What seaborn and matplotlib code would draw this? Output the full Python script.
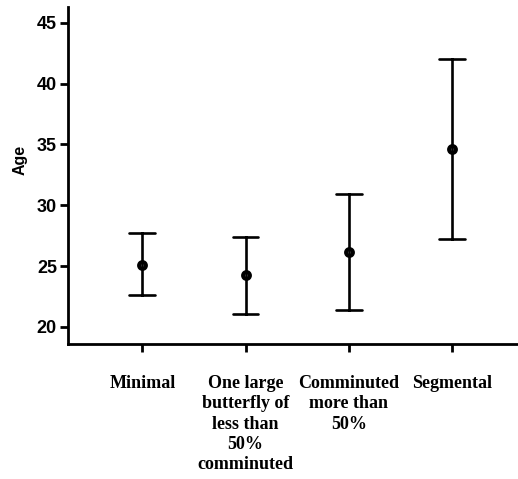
import numpy as np
import pandas as pd
import matplotlib
matplotlib.use("Agg")
import matplotlib.pyplot as plt
import seaborn as sns

categories = ["Minimal",
              "One large\nbutterfly of\nless than\n50%\ncomminuted",
              "Comminuted\nmore than\n50%",
              "Segmental"]
mean_age = [25.1, 24.3, 26.2, 34.6]
lower_age = [22.6, 21.1, 21.4, 27.2]
upper_age = [27.7, 27.4, 30.9, 42.0]

rows = []
for c, lo, m, hi in zip(categories, lower_age, mean_age, upper_age):
    for v in (lo, m, hi):
        rows.append({"group": c, "Age": v})
df = pd.DataFrame(rows)

sns.set_style("ticks")
plt.rcParams["axes.edgecolor"] = "black"
plt.rcParams["axes.labelcolor"] = "black"
plt.rcParams["xtick.color"] = "black"
plt.rcParams["ytick.color"] = "black"
plt.rcParams["text.color"] = "black"
fig = plt.figure(figsize=(5.18, 4.79), dpi=100)
ax = fig.add_axes([68/518, (479-344)/479, 1 - 68/518, (344-7)/479])

sns.pointplot(data=df, x="group", y="Age", order=categories,
              estimator="median", errorbar=lambda x: (np.min(x), np.max(x)),
              capsize=0.25, color="black", linestyle="none",
              err_kws={"linewidth": 1.9},
              markers="o", markersize=5,
              markerfacecolor="white", markeredgewidth=2.8, ax=ax)

ax.set_ylim(18.6, 46.3)
ax.set_xlim(-0.72, 3.64)
ax.set_yticks([20, 25, 30, 35, 40, 45])
ax.set_xlabel("")
ax.set_ylabel("Age", family="Liberation Sans", fontweight="bold", fontsize=11.5,
              color="black")
ax.yaxis.set_label_coords(-0.09, 0.545)
for t in ax.get_yticklabels():
    t.set_family("Liberation Sans"); t.set_fontweight("bold"); t.set_fontsize(13)
for t in ax.get_xticklabels():
    t.set_family("Liberation Serif"); t.set_fontweight("bold"); t.set_fontsize(13)
    t.set_linespacing(1.25); t.set_verticalalignment("top")
ax.tick_params(axis="x", length=6, width=2, pad=16.5, colors="black")
ax.tick_params(axis="y", length=6, width=2, pad=2, colors="black")
for s in ["left", "bottom"]:
    ax.spines[s].set_linewidth(2)
    ax.spines[s].set_color("black")
for s in ["top", "right"]:
    ax.spines[s].set_visible(False)

fig.savefig("out.png", dpi=100)
